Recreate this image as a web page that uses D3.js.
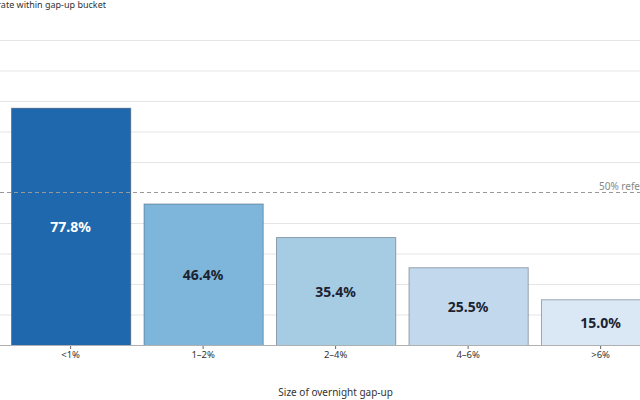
<!DOCTYPE html>
<html>
<head>
<meta charset="utf-8">
<script src="https://cdn.jsdelivr.net/npm/d3@7"></script>
<style>
  body { margin: 0; background: #fff; }
  svg { display: block; font-family: "Noto Sans", "Open Sans", sans-serif; }
</style>
</head>
<body>
<div id="chart"></div>
<script>
let buckets = ["<1%", "1\u20132%", "2\u20134%", "4\u20136%", ">6%"];
let rates = [77.8, 46.4, 35.4, 25.5, 15.0];
let barColors = ["#1f68ad", "#7db6da", "#a6cce4", "#c2d9ed", "#dae8f5"];
let labelColors = ["#ffffff", "#1c2230", "#1c2230", "#1c2230", "#1c2230"];
let gridTicks = [10, 20, 30, 40, 50, 60, 70, 80, 90, 100];
let refValue = 50;

var width = 640, height = 400;

var svg = d3.select("#chart")
    .append("svg")
    .attr("width", width)
    .attr("height", height);

// plot area is wider than the window on both sides (chart is cropped)
var x = d3.scaleBand()
    .domain(buckets)
    .range([-2.25, 673.5])
    .paddingInner(0.1)
    .paddingOuter(0.1);

var y = d3.scaleLinear()
    .domain([0, 100])
    .range([345, 40]);

// gridlines
svg.append("g")
    .selectAll("line")
    .data(gridTicks.filter(d => d !== refValue))
    .enter()
    .append("line")
    .attr("x1", 0)
    .attr("x2", width)
    .attr("y1", d => y(d) + 0.5)
    .attr("y2", d => y(d) + 0.5)
    .style("stroke", "#e5e5e5")
    .style("stroke-width", 1);

// bars
svg.append("g")
    .selectAll("rect")
    .data(rates)
    .enter()
    .append("rect")
    .attr("x", (d, i) => x(buckets[i]) + 0.5)
    .attr("y", d => y(d) + 0.5)
    .attr("width", x.bandwidth())
    .attr("height", d => y(0) - y(d))
    .style("fill", (d, i) => barColors[i])
    .style("stroke", "rgba(60,70,90,0.45)")
    .style("stroke-width", 1);

// 50% reference line
svg.append("line")
    .attr("x1", 0)
    .attr("x2", width)
    .attr("y1", y(refValue))
    .attr("y2", y(refValue))
    .style("stroke", "#999")
    .style("stroke-width", 1)
    .style("stroke-dasharray", "4,3");

svg.append("text")
    .attr("x", 599)
    .attr("y", y(refValue) - 3)
    .style("font-size", "10px")
    .style("fill", "#888")
    .text("50% reference");

// value labels
svg.append("g")
    .selectAll("text")
    .data(rates)
    .enter()
    .append("text")
    .attr("x", (d, i) => x(buckets[i]) + x.bandwidth() / 2)
    .attr("y", d => (y(d) + y(0)) / 2)
    .attr("text-anchor", "middle")
    .attr("dominant-baseline", "central")
    .style("font-size", "14px")
    .style("font-weight", "bold")
    .style("fill", (d, i) => labelColors[i])
    .text(d => d.toFixed(1) + "%");

// x axis
var xAxis = svg.append("g")
    .attr("transform", "translate(0," + y(0) + ")")
    .call(d3.axisBottom(x).tickSize(4).tickSizeOuter(0));
xAxis.select(".domain").remove();
xAxis.append("line")
    .attr("x1", 0).attr("x2", width)
    .attr("y1", 0.5).attr("y2", 0.5)
    .style("stroke", "#b0b0b0");
xAxis.selectAll(".tick line").style("stroke", "#666");
xAxis.selectAll(".tick text")
    .attr("dy", "0.71em")
    .attr("y", 6)
    .style("font-size", "9.5px")
    .style("fill", "#333")
    .style("font-family", "'Noto Sans', sans-serif");

// axis titles
svg.append("text")
    .attr("x", (x.range()[0] + x.range()[1]) / 2)
    .attr("y", 396)
    .attr("text-anchor", "middle")
    .style("font-size", "10px")
    .style("fill", "#333")
    .text("Size of overnight gap-up");

svg.append("text")
    .attr("x", 106)
    .attr("y", 8)
    .attr("text-anchor", "end")
    .style("font-size", "9px")
    .style("fill", "#333")
    .text("Fill rate within gap-up bucket");
</script>
</body>
</html>
